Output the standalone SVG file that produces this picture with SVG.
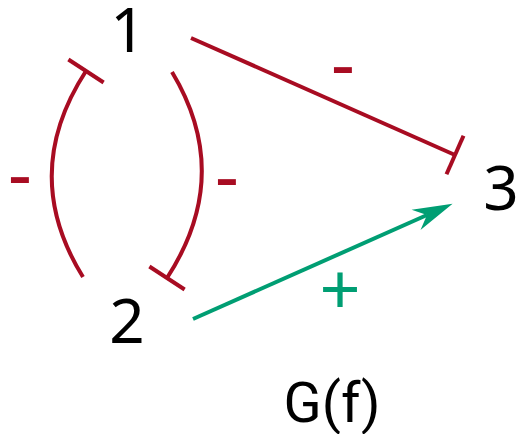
<svg xmlns="http://www.w3.org/2000/svg" width="518" height="434" viewBox="0 0 518 434">
<style>
.node{font-family:"Noto Sans","Open Sans",sans-serif;font-size:62px;fill:#000;text-anchor:middle}
.inh{fill:none;stroke:#A80C22;stroke-width:4}
.act{fill:none;stroke:#009E73;stroke-width:4}
.lm{font-family:"Noto Sans",sans-serif;font-size:74px;fill:#A80C22;text-anchor:middle}
.lp{font-family:"Noto Sans",sans-serif;font-size:72px;fill:#009E73;text-anchor:middle}
.title{font-family:Roboto,"Noto Sans",sans-serif;font-size:56px;fill:#000;text-anchor:middle}
</style>
<defs>
<marker id="tbar" markerUnits="userSpaceOnUse" orient="auto" overflow="visible" markerWidth="10" markerHeight="44" refX="0" refY="0">
<line x1="0" y1="-21" x2="0" y2="21" stroke="#A80C22" stroke-width="4"/>
</marker>
<marker id="arrow" markerUnits="userSpaceOnUse" orient="auto" overflow="visible" markerWidth="44" markerHeight="24" refX="0" refY="0">
<path d="M28,0 L-12,-11 L0,0 L-12,11 Z" fill="#009E73"/>
</marker>
</defs>
<g id="edges">
<path class="inh" d="M191,38 L455,155" marker-end="url(#tbar)"/>
<path class="inh" d="M83,277 Q19,174 86,71" marker-end="url(#tbar)"/>
<path class="inh" d="M172,72 Q234,175 167,278" marker-end="url(#tbar)"/>
<path class="act" d="M193,319 L427,215" marker-end="url(#arrow)"/>
<text class="lm" x="343" y="90">-</text>
<text class="lm" x="20" y="200">-</text>
<text class="lm" x="227" y="202">-</text>
<text class="lp" x="340" y="315">+</text>
</g>
<g id="n1"><text class="node" x="128" y="52">1</text></g>
<g id="n2"><text class="node" x="127" y="343">2</text></g>
<g id="n3"><text class="node" x="501" y="210">3</text></g>
<g id="title"><text class="title" x="332" y="422">G(f)</text></g>
</svg>
